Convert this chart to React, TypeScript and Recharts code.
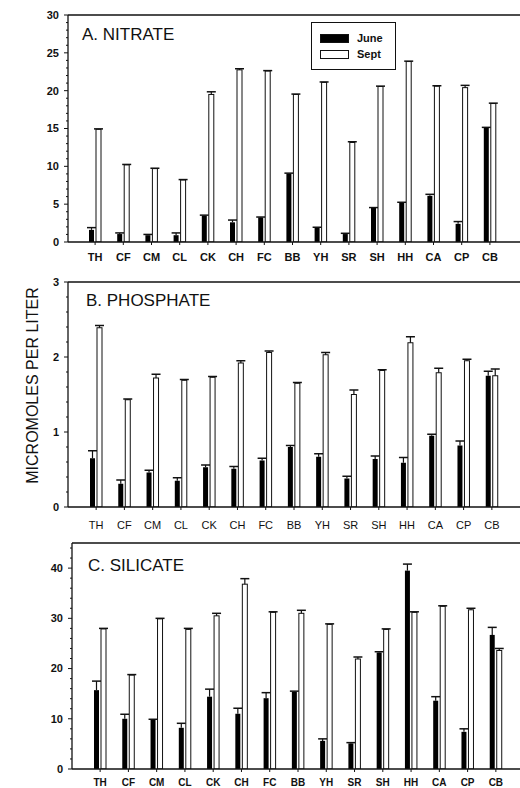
import { BarChart, Bar, XAxis, YAxis, Legend, ReferenceLine } from 'recharts'

const stations = ['TH', 'CF', 'CM', 'CL', 'CK', 'CH', 'FC', 'BB', 'YH', 'SR', 'SH', 'HH', 'CA', 'CP', 'CB']

// A. nitrate (µM)
const nitrateJune = [1.6, 1.05, 0.9, 0.9, 3.5, 2.6, 3.25, 9.05, 1.85, 1.05, 4.5, 5.2, 6.1, 2.4, 15.1]
const nitrateJuneErr = [0.3, 0.15, 0.1, 0.3, 0.05, 0.3, 0.05, 0.05, 0.1, 0.1, 0.05, 0.05, 0.2, 0.3, 0.05]
const nitrateSept = [14.9, 10.2, 9.7, 8.2, 19.5, 22.75, 22.6, 19.5, 21.1, 13.15, 20.55, 23.85, 20.6, 20.4, 18.3]
const nitrateSeptErr = [0.05, 0.05, 0.05, 0.05, 0.35, 0.15, 0.05, 0.05, 0.05, 0.1, 0.05, 0.05, 0.05, 0.3, 0.05]

// B. phosphate (µM)
const phosphateJune = [0.65, 0.31, 0.46, 0.35, 0.53, 0.51, 0.62, 0.8, 0.67, 0.38, 0.64, 0.59, 0.95, 0.82, 1.75]
const phosphateJuneErr = [0.1, 0.05, 0.03, 0.04, 0.03, 0.03, 0.03, 0.02, 0.04, 0.03, 0.04, 0.07, 0.02, 0.06, 0.06]
const phosphateSept = [2.39, 1.43, 1.72, 1.69, 1.73, 1.92, 2.06, 1.65, 2.03, 1.5, 1.82, 2.19, 1.79, 1.95, 1.75]
const phosphateSeptErr = [0.03, 0.01, 0.05, 0.01, 0.01, 0.03, 0.02, 0.01, 0.03, 0.06, 0.01, 0.08, 0.06, 0.02, 0.09]

// C. silicate (µM)
const silicateJune = [15.7, 10.0, 9.8, 8.2, 14.4, 11.0, 14.1, 15.4, 5.6, 5.1, 23.2, 39.5, 13.6, 7.4, 26.7]
const silicateJuneErr = [1.8, 0.9, 0.1, 0.9, 1.5, 1.1, 1.1, 0.1, 0.4, 0.15, 0.15, 1.3, 0.8, 0.6, 1.5]
const silicateSept = [27.9, 18.7, 29.9, 27.8, 30.5, 36.8, 31.2, 31.0, 28.8, 21.9, 27.8, 31.2, 32.4, 31.7, 23.6]
const silicateSeptErr = [0.1, 0.1, 0.1, 0.2, 0.5, 1.1, 0.1, 0.6, 0.1, 0.4, 0.1, 0.1, 0.1, 0.3, 0.4]

const nitrateTicks = [0, 5, 10, 15, 20, 25, 30]
const phosphateTicks = [0, 1, 2, 3]
const silicateTicks = [0, 10, 20, 30, 40]

const FONT = '"Liberation Sans", Arial, Helvetica, sans-serif'
const INK = '#111'
const TICK_SIZE = 4
const TICK_MARGIN = 5

function buildRows(june: number[], juneErr: number[], sept: number[], septErr: number[]) {
  return stations.map((station, i) => ({
    station,
    june: june[i],
    juneErr: juneErr[i],
    sept: sept[i],
    septErr: septErr[i],
  }))
}

// majors plus 4 minor ticks in every interval
function withMinors(majors: number[], max: number) {
  const step = (majors[1] - majors[0]) / 5
  const out: number[] = []
  for (let v = 0; v <= max + 1e-9; v += step) out.push(Math.round(v * 1000) / 1000)
  return out
}

// bar with a one-sided (upper) error whisker
function barWithError(errKey: 'juneErr' | 'septErr') {
  return (props: any) => {
    const { x, y, width, height, payload, fill, stroke, value } = props
    const v = Array.isArray(value) ? value[1] - value[0] : value
    const perUnit = v > 0 ? height / v : 0
    const err = payload?.[errKey] ?? 0
    const top = y - err * perUnit
    const cx = x + width / 2
    return (
      <g>
        <rect x={x} y={y} width={width} height={height} fill={fill} stroke={stroke} strokeWidth={stroke ? 1 : 0} />
        <line x1={cx} x2={cx} y1={y} y2={top} stroke={INK} strokeWidth={1.2} />
        <line x1={cx - 4.5} x2={cx + 4.5} y1={top} y2={top} stroke={INK} strokeWidth={1.5} />
      </g>
    )
  }
}

function makeYTick(majors: number[], fontSize: number) {
  return (props: any) => {
    const { x, y, payload } = props
    const isMajor = majors.some((m) => Math.abs(m - payload.value) < 1e-6)
    const ax = x + TICK_SIZE + TICK_MARGIN
    return (
      <g>
        <line x1={ax - (isMajor ? 4 : 2)} x2={ax} y1={y} y2={y} stroke={INK} strokeWidth={1} />
        {isMajor && (
          <text x={x} y={y} dy="0.35em" textAnchor="end" fontSize={fontSize} fontWeight="bold" fontFamily={FONT} fill={INK}>
            {payload.value}
          </text>
        )}
      </g>
    )
  }
}

function LegendBox({ payload }: any) {
  const items = payload ?? []
  return (
    <div
      style={{
        width: 85,
        height: 48,
        border: `1px solid ${INK}`,
        boxSizing: 'border-box',
        background: '#fff',
        position: 'relative',
        fontFamily: FONT,
        fontSize: 11,
        fontWeight: 'bold',
        color: INK,
      }}
    >
      {items.map((it: any, i: number) => (
        <div key={it.value} style={{ position: 'absolute', left: 8, top: 11 + i * 16, height: 9, display: 'flex', alignItems: 'center' }}>
          <div
            style={{
              width: 27,
              height: 7,
              background: i === 0 ? '#000' : '#fff',
              border: `1px solid ${INK}`,
            }}
          />
          <span style={{ marginLeft: 8, lineHeight: '9px' }}>{it.value}</span>
        </div>
      ))}
    </div>
  )
}

interface PanelProps {
  data: ReturnType<typeof buildRows>
  height: number
  top: number
  marginTop: number
  yWidth: number
  xHeight: number
  max: number
  majors: number[]
  padLeft: number
  padRight: number
  xTickMargin: number
  xFont: number
  xBold: boolean
  legend?: boolean
}

function Panel(p: PanelProps) {
  return (
    <div style={{ position: 'absolute', left: 0, top: p.top }}>
      <BarChart
        width={520}
        height={p.height}
        data={p.data}
        margin={{ top: p.marginTop, right: 0, bottom: 0, left: 0 }}
        barSize={5}
        barGap={2}
      >
        <XAxis
          dataKey="station"
          height={p.xHeight}
          interval={0}
          padding={{ left: p.padLeft, right: p.padRight }}
          axisLine={{ stroke: INK, strokeWidth: 1.3 }}
          tickLine={{ stroke: INK }}
          tickSize={3}
          tickMargin={p.xTickMargin}
          tick={{ fontSize: p.xFont, fill: INK, fontFamily: FONT, fontWeight: p.xBold ? 'bold' : 'normal' }}
        />
        <YAxis
          width={p.yWidth}
          domain={[0, p.max]}
          ticks={withMinors(p.majors, p.max)}
          interval={0}
          allowDataOverflow
          axisLine={{ stroke: INK, strokeWidth: 1.3 }}
          tickLine={false}
          tickSize={TICK_SIZE}
          tickMargin={TICK_MARGIN}
          tick={makeYTick(p.majors, 11)}
        />
        <ReferenceLine y={p.max} stroke={INK} strokeWidth={1.3} />
        {p.legend && (
          <Legend
            layout="vertical"
            align="center"
            verticalAlign="middle"
            content={<LegendBox />}
            wrapperStyle={{ left: 311, top: 22, width: 85, height: 48 }}
          />
        )}
        <Bar dataKey="june" name="June" fill="#000" isAnimationActive={false} shape={barWithError('juneErr')} />
        <Bar dataKey="sept" name="Sept" fill="#fff" stroke={INK} isAnimationActive={false} shape={barWithError('septErr')} />
      </BarChart>
    </div>
  )
}

export default function App() {
  const nitrate = buildRows(nitrateJune, nitrateJuneErr, nitrateSept, nitrateSeptErr)
  const phosphate = buildRows(phosphateJune, phosphateJuneErr, phosphateSept, phosphateSeptErr)
  const silicate = buildRows(silicateJune, silicateJuneErr, silicateSept, silicateSeptErr)

  return (
    <div style={{ position: 'absolute', left: 0, top: 0, width: 520, height: 788, background: '#fff', overflow: 'hidden' }}>
      <Panel data={nitrate} top={0} height={270} marginTop={15} yWidth={68} xHeight={28} max={30} majors={nitrateTicks}
        padLeft={13} padRight={16} xTickMargin={8} xFont={11} xBold legend />
      <Panel data={phosphate} top={268} height={268} marginTop={14} yWidth={68} xHeight={29} max={3} majors={phosphateTicks}
        padLeft={14} padRight={14} xTickMargin={11} xFont={11} xBold={false} />
      <Panel data={silicate} top={536} height={252} marginTop={7} yWidth={72} xHeight={19} max={45} majors={silicateTicks}
        padLeft={14} padRight={10} xTickMargin={7} xFont={10} xBold />
      <svg width={520} height={788} style={{ position: 'absolute', left: 0, top: 0, pointerEvents: 'none' }}>
        <g fontFamily={FONT} fill={INK}>
          <text x={82} y={40} fontSize={17}>A. NITRATE</text>
          <text x={86} y={306} fontSize={17}>B. PHOSPHATE</text>
          <text x={88} y={571} fontSize={17}>C. SILICATE</text>
          <text transform="translate(37.5,385.5) rotate(-90)" textAnchor="middle" fontSize={16}>
            MICROMOLES PER LITER
          </text>
        </g>
      </svg>
    </div>
  )
}
